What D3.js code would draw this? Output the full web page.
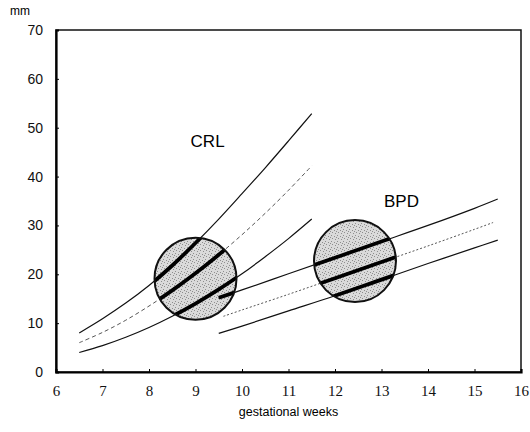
<!DOCTYPE html>
<html>
<head>
<meta charset="utf-8">
<script src="https://cdn.jsdelivr.net/npm/d3@7/dist/d3.min.js"></script>
<style>
  body { margin: 0; background: #fff; }
  svg { display: block; }
</style>
</head>
<body>
<div id="chart"></div>
<script>
// x values in gestational weeks, y values in mm
const xTicks = [6, 7, 8, 9, 10, 11, 12, 13, 14, 15, 16];
const yTicks = [0, 10, 20, 30, 40, 50, 60, 70];

const crlWeeks = [6.5, 7, 7.5, 8, 8.5, 9, 9.5, 10, 10.5, 11, 11.5];
const crlUpper = [8, 10.9, 14.1, 17.7, 21.8, 26.4, 31.3, 36.5, 41.8, 47.3, 52.9];
const crlMid = [6, 8.1, 10.6, 13.5, 16.7, 20.2, 24.0, 28.1, 32.5, 37.2, 42.2];
const crlLower = [4, 5.4, 7.1, 9.1, 11.4, 14.0, 16.9, 20.1, 23.6, 27.3, 31.3];

const bpdUpperWeeks = [9.5, 10, 11, 12, 13, 14, 15, 15.5];
const bpdUpper = [15.2, 16.8, 20.1, 23.4, 26.7, 30.0, 33.5, 35.4];
const bpdMidWeeks = [9.6, 10, 11, 12, 13, 14, 15, 15.4];
const bpdMid = [11.4, 12.7, 15.9, 19.2, 22.5, 25.8, 29.2, 30.6];
const bpdLowerWeeks = [9.5, 10, 11, 12, 13, 14, 15, 15.5];
const bpdLower = [7.9, 9.4, 12.5, 15.6, 18.9, 22.2, 25.4, 27];

// circled zones (centre week, centre mm)
const zoneWeeks = [9.0, 12.43];
const zoneMm = [19.1, 22.7];

const labelText = ['CRL', 'BPD'];
const labelWeeks = [9.26, 13.43];
const labelMm = [47.3, 34.9];

const width = 530;
const height = 432;
const margin = { top: 30, right: 9, bottom: 60, left: 56 };
const zoneRadius = 41;

const svg = d3
  .select('#chart')
  .append('svg')
  .attr('width', width)
  .attr('height', height);

const x = d3
  .scaleLinear()
  .domain([6, 16])
  .range([margin.left, width - margin.right]);

const y = d3
  .scaleLinear()
  .domain([0, 70])
  .range([height - margin.bottom, margin.top]);

// stipple texture for the zones
const defs = svg.append('defs');
const pat = defs
  .append('pattern')
  .attr('id', 'stipple')
  .attr('patternUnits', 'userSpaceOnUse')
  .attr('width', 6)
  .attr('height', 6);
pat.append('rect').attr('width', 6).attr('height', 6).attr('fill', '#dadada');
[[1, 1], [4, 2], [2, 4], [5, 5], [0, 3]].forEach(([px, py]) => {
  pat
    .append('rect')
    .attr('x', px)
    .attr('y', py)
    .attr('width', 1)
    .attr('height', 1)
    .attr('fill', '#8e8e8e');
});

const clip = defs.append('clipPath').attr('id', 'zones');
zoneWeeks.forEach((w, i) => {
  clip
    .append('circle')
    .attr('cx', x(w))
    .attr('cy', y(zoneMm[i]))
    .attr('r', zoneRadius);
});

// frame
svg
  .append('rect')
  .attr('x', x(6))
  .attr('y', y(70))
  .attr('width', x(16) - x(6))
  .attr('height', y(0) - y(70))
  .attr('fill', 'none')
  .attr('stroke', '#111')
  .attr('stroke-width', 1.5);

// axes
const xAxis = svg
  .append('g')
  .attr('transform', `translate(0,${y(0)})`)
  .call(d3.axisBottom(x).tickValues(xTicks).tickSize(-3).tickPadding(13));
xAxis.select('.domain').attr('stroke-width', 2.2);
xAxis
  .selectAll('text')
  .attr('font-family', '"Liberation Serif", serif')
  .attr('font-size', 15)
  .attr('fill', '#111');

const yAxis = svg
  .append('g')
  .attr('transform', `translate(${x(6)},0)`)
  .call(d3.axisLeft(y).tickValues(yTicks).tickSize(-3).tickPadding(13));
yAxis.select('.domain').attr('stroke-width', 2.2);
yAxis
  .selectAll('text')
  .attr('font-family', '"Liberation Sans", sans-serif')
  .attr('font-size', 14)
  .attr('fill', '#111');

svg
  .append('text')
  .attr('x', 10)
  .attr('y', 15)
  .attr('font-family', '"Liberation Sans", sans-serif')
  .attr('font-size', 12)
  .text('mm');

svg
  .append('text')
  .attr('x', (x(6) + x(16)) / 2)
  .attr('y', 416)
  .attr('text-anchor', 'middle')
  .attr('font-family', '"Liberation Sans", sans-serif')
  .attr('font-size', 12.5)
  .text('gestational weeks');

// zone fills
svg
  .append('g')
  .selectAll('circle')
  .data(zoneWeeks)
  .join('circle')
  .attr('cx', (d) => x(d))
  .attr('cy', (d, i) => y(zoneMm[i]))
  .attr('r', zoneRadius)
  .attr('fill', 'url(#stipple)');

const curves = [
  { w: crlWeeks, v: crlUpper, dash: null },
  { w: crlWeeks, v: crlMid, dash: '4,3' },
  { w: crlWeeks, v: crlLower, dash: null },
  { w: bpdUpperWeeks, v: bpdUpper, dash: null },
  { w: bpdMidWeeks, v: bpdMid, dash: '2,2' },
  { w: bpdLowerWeeks, v: bpdLower, dash: null },
];

const line = d3
  .line()
  .x((d) => x(d[0]))
  .y((d) => y(d[1]))
  .curve(d3.curveCatmullRom.alpha(0.5));

const pts = (c) => c.w.map((w, i) => [w, c.v[i]]);

// thin curves
svg
  .append('g')
  .selectAll('path')
  .data(curves)
  .join('path')
  .attr('d', (c) => line(pts(c)))
  .attr('fill', 'none')
  .attr('stroke', (c) => (c.dash ? '#555' : '#111'))
  .attr('stroke-width', (c) => (c.dash ? 1 : 1.2))
  .attr('stroke-dasharray', (c) => c.dash);

// bold parts inside the zones
svg
  .append('g')
  .attr('clip-path', 'url(#zones)')
  .selectAll('path')
  .data(curves)
  .join('path')
  .attr('d', (c) => line(pts(c)))
  .attr('fill', 'none')
  .attr('stroke', '#000')
  .attr('stroke-width', 3.8);

// zone outlines
svg
  .append('g')
  .selectAll('circle')
  .data(zoneWeeks)
  .join('circle')
  .attr('cx', (d) => x(d))
  .attr('cy', (d, i) => y(zoneMm[i]))
  .attr('r', zoneRadius)
  .attr('fill', 'none')
  .attr('stroke', '#111')
  .attr('stroke-width', 2);

svg
  .append('g')
  .selectAll('text')
  .data(labelText)
  .join('text')
  .attr('x', (d, i) => x(labelWeeks[i]))
  .attr('y', (d, i) => y(labelMm[i]))
  .attr('dy', '0.35em')
  .attr('text-anchor', 'middle')
  .attr('font-family', '"Liberation Sans", sans-serif')
  .attr('font-size', 17)
  .text((d) => d);
</script>
</body>
</html>
